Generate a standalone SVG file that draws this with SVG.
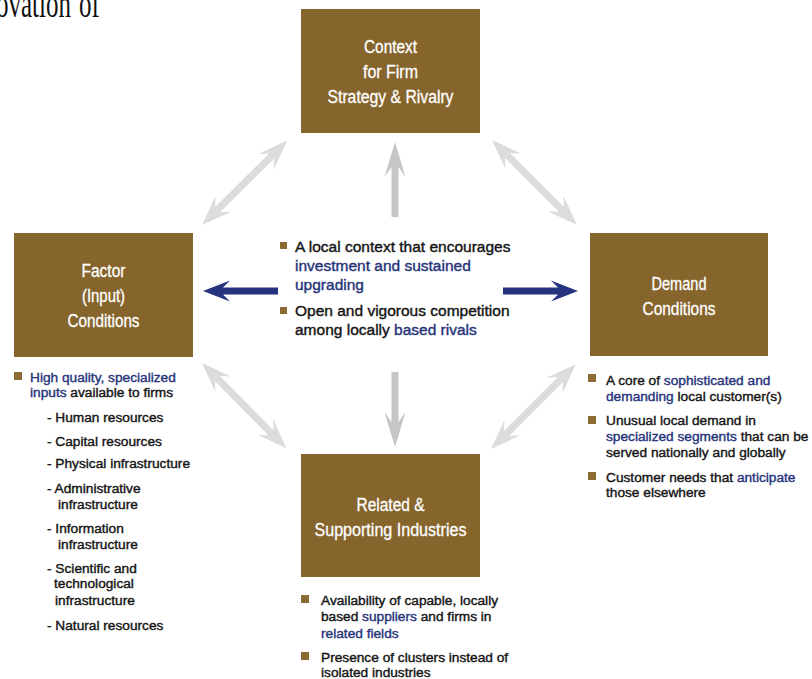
<svg xmlns="http://www.w3.org/2000/svg" xmlns:xlink="http://www.w3.org/1999/xlink" width="812" height="679" viewBox="0 0 812 679">
<style>
.box{fill:#86652D;}
.bt{font-family:"Liberation Sans",Arial,sans-serif;font-size:17.5px;fill:#FFFFFF;stroke:#FFFFFF;stroke-width:0.3;text-anchor:middle;}
.lt{font-family:"Liberation Sans",Arial,sans-serif;font-size:13.7px;fill:#141414;stroke:#141414;stroke-width:0.4;}
.ct{font-family:"Liberation Sans",Arial,sans-serif;font-size:15.5px;fill:#141414;stroke:#141414;stroke-width:0.4;}
.b{fill:#27347A;stroke:#27347A;}
.sq{fill:#8B6A34;}
.dg{fill:#DCDCDC;}
.vg{fill:#C6C6C6;}
.ba{fill:#26337E;}
</style>
<defs>
<polygon id="dbl" points="0,0 30,-11 22,-3.6 98,-3.6 90,-11 120,0 90,11 98,3.6 22,3.6 30,11"/>
<polygon id="vert" points="0,-3.5 50,-3.5 40,-10.5 75,0 40,10.5 50,3.5 0,3.5"/>
<polygon id="blue" points="0,-3.6 55,-3.6 48,-10.5 75,0 48,10.5 55,3.6 0,3.6"/>
</defs>
<rect width="812" height="679" fill="#FFFFFF"/>
<text transform="scale(1,1.6)" font-family="'Liberation Serif','Times New Roman',serif" font-size="25" fill="#111"><tspan x="-4" y="10.6">ovation</tspan><tspan x="79" y="10.6">of</tspan></text>

<g id="connectors">
<use xlink:href="#dbl" class="dg" transform="translate(202,225) rotate(-44.7)"/>
<use xlink:href="#dbl" class="dg" transform="translate(492,140) rotate(45)"/>
<use xlink:href="#dbl" class="dg" transform="translate(202,363) rotate(45.3)"/>
<use xlink:href="#dbl" class="dg" transform="translate(491,449) rotate(-45)"/>
<use xlink:href="#vert" class="vg" transform="translate(395,217) rotate(-90)"/>
<use xlink:href="#vert" class="vg" transform="translate(395,372) rotate(90)"/>
<use xlink:href="#blue" class="ba" transform="translate(278,291) rotate(180)"/>
<use xlink:href="#blue" class="ba" transform="translate(503,291)"/>
</g>

<g id="node-context">
<rect class="box" x="301" y="9" width="179" height="124"/>
<text class="bt" x="390.5" y="53" textLength="53" lengthAdjust="spacingAndGlyphs">Context</text>
<text class="bt" x="390.5" y="78" textLength="55" lengthAdjust="spacingAndGlyphs">for Firm</text>
<text class="bt" x="390.5" y="103" textLength="126" lengthAdjust="spacingAndGlyphs">Strategy &amp; Rivalry</text>
</g>

<g id="center-text">
<rect class="sq" x="280" y="242" width="7" height="7"/>
<text class="ct" x="295" y="252">A local context that encourages</text>
<text class="ct b" x="295" y="271">investment and sustained</text>
<text class="ct b" x="295" y="290">upgrading</text>
<rect class="sq" x="280" y="307" width="7" height="7"/>
<text class="ct" x="295" y="316">Open and vigorous competition</text>
<text class="ct" x="295" y="335">among locally <tspan class="b">based rivals</tspan></text>
</g>

<g id="node-factor">
<rect class="box" x="14" y="233" width="179" height="124"/>
<text class="bt" x="103.5" y="277" textLength="44" lengthAdjust="spacingAndGlyphs">Factor</text>
<text class="bt" x="103.5" y="302" textLength="43" lengthAdjust="spacingAndGlyphs">(Input)</text>
<text class="bt" x="103.5" y="327" textLength="72" lengthAdjust="spacingAndGlyphs">Conditions</text>
<rect class="sq" x="14" y="372" width="8" height="8"/>
<text class="lt b" x="30" y="382">High quality, specialized</text>
<text class="lt" x="30" y="397"><tspan class="b">inputs</tspan> available to firms</text>
<text class="lt" x="47" y="422">- Human resources</text>
<text class="lt" x="47" y="446">- Capital resources</text>
<text class="lt" x="47" y="468">- Physical infrastructure</text>
<text class="lt" x="47" y="493">- Administrative</text>
<text class="lt" x="58" y="509">infrastructure</text>
<text class="lt" x="47" y="533">- Information</text>
<text class="lt" x="58" y="549">infrastructure</text>
<text class="lt" x="47" y="573">- Scientific and</text>
<text class="lt" x="54" y="588">technological</text>
<text class="lt" x="55" y="605">infrastructure</text>
<text class="lt" x="47" y="630">- Natural resources</text>
</g>

<g id="node-demand">
<rect class="box" x="590" y="233" width="178" height="123"/>
<text class="bt" x="679" y="290" textLength="55" lengthAdjust="spacingAndGlyphs">Demand</text>
<text class="bt" x="679" y="315" textLength="73" lengthAdjust="spacingAndGlyphs">Conditions</text>
<rect class="sq" x="588" y="374" width="8" height="8"/>
<text class="lt" x="606" y="385">A core of <tspan class="b">sophisticated and</tspan></text>
<text class="lt" x="606" y="401"><tspan class="b">demanding</tspan> local customer(s)</text>
<rect class="sq" x="588" y="416" width="8" height="8"/>
<text class="lt" x="606" y="425">Unusual local demand in</text>
<text class="lt" x="606" y="441"><tspan class="b">specialized segments</tspan> that can be</text>
<text class="lt" x="606" y="457">served nationally and globally</text>
<rect class="sq" x="588" y="472" width="8" height="8"/>
<text class="lt" x="606" y="482">Customer needs that <tspan class="b">anticipate</tspan></text>
<text class="lt" x="606" y="497">those elsewhere</text>
</g>

<g id="node-related">
<rect class="box" x="301" y="454" width="179" height="123"/>
<text class="bt" x="390.5" y="511" textLength="68" lengthAdjust="spacingAndGlyphs">Related &amp;</text>
<text class="bt" x="390.5" y="536" textLength="152" lengthAdjust="spacingAndGlyphs">Supporting Industries</text>
<rect class="sq" x="301" y="595" width="8" height="8"/>
<text class="lt" x="321" y="605">Availability of capable, locally</text>
<text class="lt" x="321" y="621">based <tspan class="b">suppliers</tspan> and firms in</text>
<text class="lt b" x="321" y="638">related fields</text>
<rect class="sq" x="301" y="652" width="8" height="8"/>
<text class="lt" x="321" y="662">Presence of clusters instead of</text>
<text class="lt" x="321" y="677">isolated industries</text>
</g>
</svg>
